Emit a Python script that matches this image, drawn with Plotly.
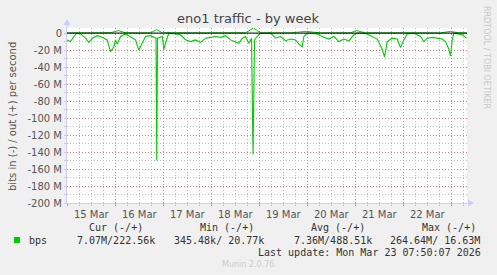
import pandas as pd
import plotly.graph_objects as go

# ---- data (hours since 15 Mar 00:00, values in Mbit/s) ----
in_hours = [-0.17, 1.6, 3.25, 4.6, 6.6, 9.1, 10.75, 12.45, 14.95, 17.45, 19.95, 21.6, 23.25, 24.1,
            24.95, 26.6, 29.1, 31.6, 34.1, 35.75, 37.45, 39.1, 41.6, 43.25, 44.35, 44.7, 45.1,
            47.45, 48.25, 49.45, 50.75, 54.1, 56.6, 57.45, 59.1, 61.6, 64.1, 66.6, 69.1, 71.6,
            74.1, 76.6, 79.1, 81.6, 84.1, 85.75, 87.45, 89.1, 90.75, 92.1, 92.85, 93.6, 94.95,
            96.6, 99.1, 101.6, 104.1, 106.6, 109.1, 111.6, 114.1, 115.75, 117.45, 118.25, 119.95,
            121.6, 124.95, 128.25, 130.75, 133.25, 135.75, 138.25, 140.75, 143.25, 144.95,
            147.45, 149.95, 152.45, 154.95, 157.45, 158.6, 159.95, 162.45, 164.95, 166.6, 168.25,
            169.95, 173.25, 176.6, 178.25, 179.95, 182.45, 184.95, 187.45, 189.1, 190.75, 191.6,
            192.45, 193.25, 194.95, 197.45, 199.6]
in_mbps = [-8, -10, -4, 0, -1, -6, -11, -6, -3, -5, -8, -22, -16, -8,
           -13, -4, -1, -5, -8, -20, -11, -4, -3, -5, -6, -150, -6,
           -4, -19, -9, 0, -1, -2, -4, -8, -10, -8, -11, -6, -5,
           -4, -5, -3, -8, -10, -12, -6, -4, -12, -6, -143, -8, -4,
           0, -0.5, 0, -6, -4, -9, -7, -8, -13, -16, -4, 0,
           0, -1, -5, -7, -4, -10, -7, -9, -2, 0,
           0, -1, -4, -7, -19, -28, -10, -6, -7, -17, -8,
           -1, 0, -4, -10, -6, -5, -6, -7, -10, -19, -27,
           -8, 0, -1, -2, -6]

out_hours = [-0.17, 6.6, 14.1, 21.6, 25.6, 29.1, 36.6, 41.6, 44.6, 47.6, 54.1, 61.6, 69.1, 76.6,
             84.1, 89.1, 93.1, 96.6, 104.1, 111.6, 119.6, 126.6, 134.1, 141.6, 144.6, 149.1,
             156.6, 164.1, 171.6, 179.1, 186.6, 191.6, 195.6, 199.6]
out_mbps = [0.2, 0.3, 0.2, 0.4, 3.0, 0.3, 0.2, 0.3, 4.0, 0.3, 0.2, 0.3, 0.2, 0.4,
            0.2, 0.3, 6.0, 0.3, 0.2, 0.3, 2.0, 0.2, 0.3, 0.3, 3.0, 0.2,
            0.3, 0.2, 0.3, 0.3, 0.2, 2.0, 0.3, 0.2]

y_tick_vals = [0, -20, -40, -60, -80, -100, -120, -140, -160, -180, -200]
y_tick_text = ["0", "-20 M", "-40 M", "-60 M", "-80 M", "-100 M", "-120 M", "-140 M",
               "-160 M", "-180 M", "-200 M"]

stat_headers = ["Cur (-/+)", "Min (-/+)", "Avg (-/+)", "Max (-/+)"]
stat_values = ["7.07M/222.56k", "345.48k/ 20.77k", "7.36M/488.51k", "264.64M/ 16.63M"]
series_name = "bps"
last_update = "Last update: Mon Mar 23 07:50:07 2026"

# ---- figure ----
base = pd.Timestamp("2026-03-15 00:00")
t_in = base + pd.to_timedelta(in_hours, unit="h")
t_out = base + pd.to_timedelta(out_hours, unit="h")

GREEN = "#00cc00"
W, H = 497, 275
L, R, T, B = 67, 30, 28, 72
PW, PH = W - L - R, H - T - B
MAJOR = "#e27a7a"
MINOR = "#bdbdbd"
DOT = "1px,2px"


def px(x):
    return (x - L) / PW


def py(y):
    return (H - B - y) / PH


fig = go.Figure()
fig.add_trace(go.Scatter(x=t_in, y=[v * 1e6 for v in in_mbps], mode="lines",
                         line=dict(color=GREEN, width=1.1), showlegend=False))
fig.add_trace(go.Scatter(x=t_out, y=[v * 1e6 for v in out_mbps], mode="lines",
                         line=dict(color=GREEN, width=1), showlegend=False))

fig.update_layout(
    width=W, height=H,
    margin=dict(l=L, r=R, t=T, b=B),
    paper_bgcolor="#f0f0f0", plot_bgcolor="#ffffff",
    font=dict(family="DejaVu Sans", size=10, color="#555555"),
    showlegend=False,
    title=dict(text="eno1 traffic - by week", xref="container", yref="container",
               x=248 / W, y=1 - 18 / H, xanchor="center", yanchor="middle",
               font=dict(family="DejaVu Sans", size=13, color="#444444")),
)

fig.update_xaxes(
    type="date",
    range=["2026-03-14 23:50", "2026-03-23 07:50"],
    tick0="2026-03-15", dtick=86400000, ticklabelmode="period", tickformat="%-d %b",
    showgrid=True, gridcolor=MAJOR, griddash=DOT, gridwidth=1,
    ticks="outside", ticklen=2, tickcolor="#f08080",
    minor=dict(dtick=6 * 3600000, showgrid=True, gridcolor=MINOR, griddash=DOT,
               ticks="outside", ticklen=2, tickcolor="#cccccc"),
    showline=True, linecolor="#ccccff", linewidth=1,
    zeroline=False, fixedrange=True,
    tickfont=dict(family="DejaVu Sans", size=10, color="#555555"),
)
fig.update_yaxes(
    range=[-200e6, 6e6],
    tickvals=[v * 1e6 for v in y_tick_vals], ticktext=y_tick_text,
    showgrid=True, gridcolor=MAJOR, griddash=DOT, gridwidth=1,
    ticks="outside", ticklen=2, tickcolor="#cccccc",
    minor=dict(dtick=10e6, showgrid=True, gridcolor=MINOR, griddash=DOT,
               ticks="outside", ticklen=2, tickcolor="#cccccc"),
    showline=True, linecolor="#ccccff", linewidth=1,
    zeroline=False, fixedrange=True,
    tickfont=dict(family="DejaVu Sans", size=10, color="#555555"),
)

# zero line above data
fig.add_shape(type="line", xref="paper", yref="y", x0=0, x1=1, y0=0, y1=0,
              line=dict(color="#000000", width=1), layer="above")
# axis arrows
fig.add_shape(type="path", xref="paper", yref="paper", xsizemode="pixel", ysizemode="pixel",
              xanchor=0, yanchor=1, path="M -3.5,3 L 3.5,3 L 0,9 Z",
              fillcolor="#ccccff", line=dict(width=0))
fig.add_shape(type="line", xref="paper", yref="paper", x0=0, x1=0, y0=1, y1=1 + 4 / PH,
              line=dict(color="#ccccff", width=1))
fig.add_shape(type="path", xref="paper", yref="paper", xsizemode="pixel", ysizemode="pixel",
              xanchor=1, yanchor=0, path="M 1,-3.5 L 1,3.5 L 7,0 Z",
              fillcolor="#ccccff", line=dict(width=0))
# legend swatch
fig.add_shape(type="rect", xref="paper", yref="paper", x0=px(14), x1=px(20),
              y0=py(243), y1=py(237), fillcolor=GREEN, line=dict(width=0))

mono = dict(family="DejaVu Sans Mono", size=10, color="#333333")
ann = []
ann.append(dict(text="bits in (-) / out (+) per second", x=px(12), y=py(117), textangle=-90,
                font=dict(family="DejaVu Sans", size=10, color="#555555")))
ann.append(dict(text="RRDTOOL / TOBI OETIKER", x=px(487), y=py(57), textangle=90,
                font=dict(family="DejaVu Sans", size=8, color="#c8c8c8")))
header_cx = [116, 227, 338, 449]
for h, cx in zip(stat_headers, header_cx):
    ann.append(dict(text=h, x=px(cx), y=py(227), font=mono))
ann.append(dict(text=series_name, x=px(27), y=py(240), xanchor="left", font=mono))
value_rx = [157, 266, 374, 482]
for v, rx in zip(stat_values, value_rx):
    ann.append(dict(text=v, x=px(rx), y=py(240), xanchor="right", font=mono))
ann.append(dict(text=last_update, x=px(483), y=py(252), xanchor="right", font=mono))
ann.append(dict(text="Munin 2.0.76", x=px(248), y=py(264),
                font=dict(family="DejaVu Sans", size=8, color="#cccccc")))
for a in ann:
    a.update(xref="paper", yref="paper", showarrow=False)
    a.setdefault("xanchor", "center")
    a["yanchor"] = "middle"
fig.update_layout(annotations=ann)

fig.write_html("out.html", config={"displayModeBar": False})
